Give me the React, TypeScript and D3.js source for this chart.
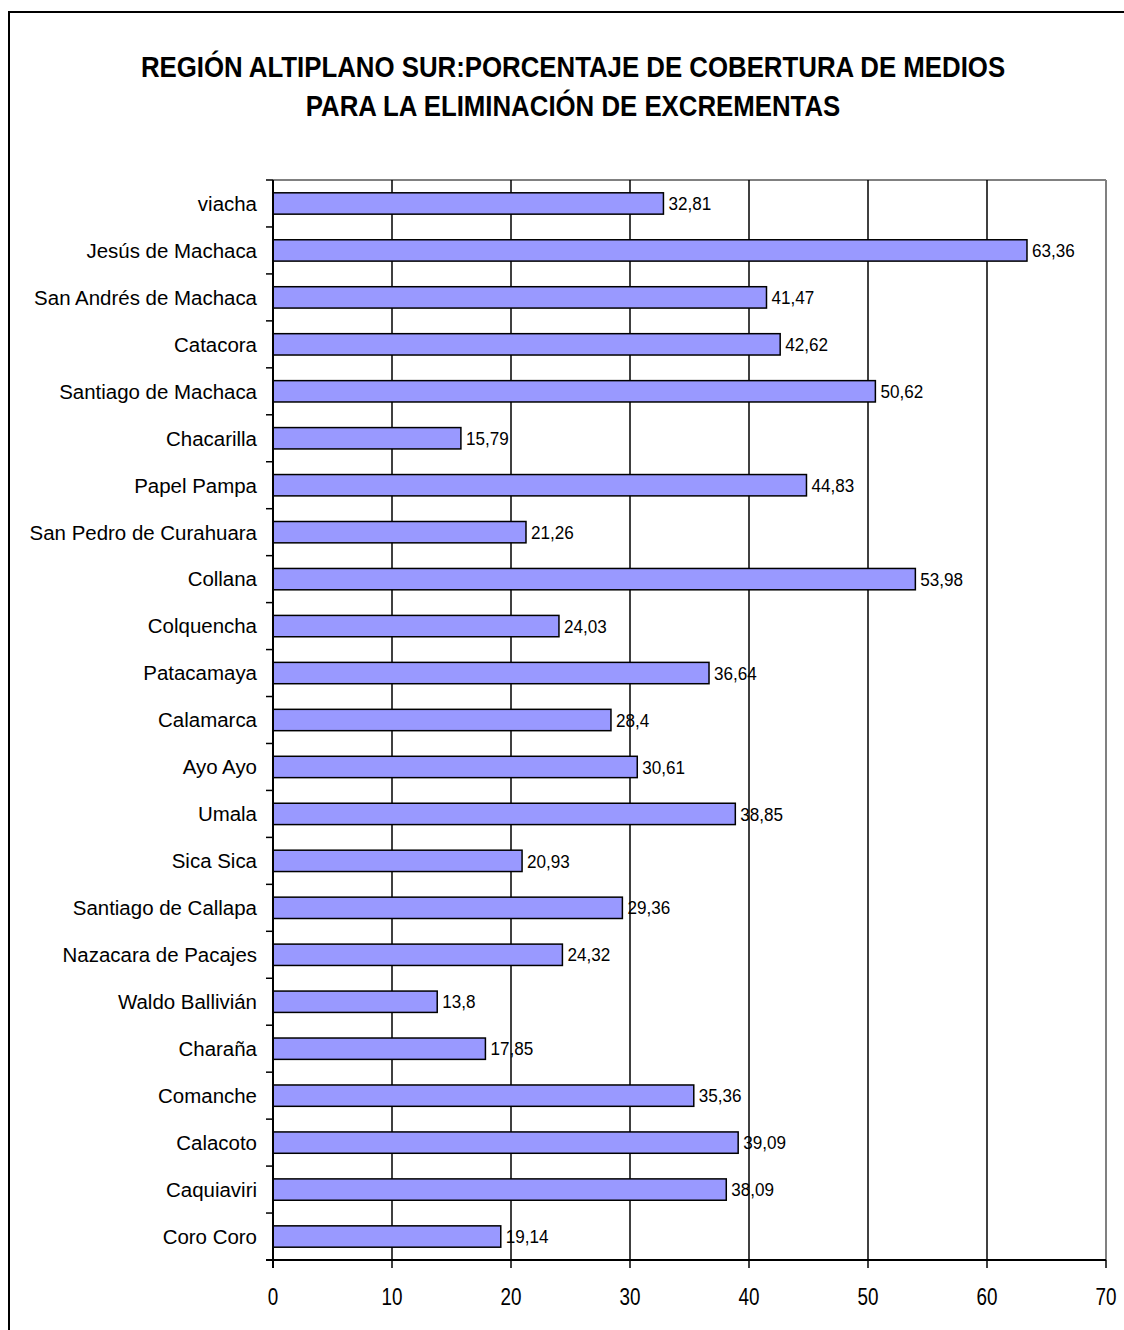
import React from "react";
import * as d3 from "d3";

const categories = [
  "viacha",
  "Jesús de Machaca",
  "San Andrés de Machaca",
  "Catacora",
  "Santiago de Machaca",
  "Chacarilla",
  "Papel Pampa",
  "San Pedro de Curahuara",
  "Collana",
  "Colquencha",
  "Patacamaya",
  "Calamarca",
  "Ayo Ayo",
  "Umala",
  "Sica Sica",
  "Santiago de Callapa",
  "Nazacara de Pacajes",
  "Waldo Ballivián",
  "Charaña",
  "Comanche",
  "Calacoto",
  "Caquiaviri",
  "Coro Coro",
];

const values = [
  32.81, 63.36, 41.47, 42.62, 50.62, 15.79, 44.83, 21.26, 53.98, 24.03, 36.64,
  28.4, 30.61, 38.85, 20.93, 29.36, 24.32, 13.8, 17.85, 35.36, 39.09, 38.09,
  19.14,
];

const xTicks = [0, 10, 20, 30, 40, 50, 60, 70];

const titleLines = [
  "REGIÓN ALTIPLANO SUR:PORCENTAJE DE COBERTURA DE MEDIOS",
  "PARA LA ELIMINACIÓN DE EXCREMENTAS",
];

export default function App() {
  const W = 1124;
  const H = 1330;
  const left = 273;
  const right = 1106;
  const top = 180;
  const bottom = 1260;

  const x = d3.scaleLinear().domain([0, 70]).range([left, right]);
  const y = d3
    .scaleBand<string>()
    .domain(categories)
    .range([top, bottom])
    .paddingInner(0)
    .paddingOuter(0);
  const bw = y.bandwidth();
  const barH = bw / 2.2;
  const font = "'Liberation Sans', Arial, sans-serif";
  const fmt = (v: number) => String(v).replace(".", ",");

  const boundaries = d3.range(categories.length + 1).map((i) => top + i * bw);

  return (
    <svg
      width={W}
      height={H}
      style={{ position: "absolute", left: 0, top: 0, background: "#fff" }}
      fontFamily={font}
    >
      <rect x={0} y={0} width={W} height={H} fill="#fff" />
      <rect
        x={9}
        y={12}
        width={W + 20}
        height={H + 20}
        fill="none"
        stroke="#000"
        strokeWidth={2}
      />
      {titleLines.map((t, i) => (
        <text
          key={i}
          transform={`translate(573,${77 + i * 38.5}) scale(0.89,1)`}
          textAnchor="middle"
          fontWeight="bold"
          fontSize={29}
          fill="#000"
        >
          {t}
        </text>
      ))}
      {/* plot frame (gray) */}
      <line x1={left} x2={right} y1={top} y2={top} stroke="#808080" strokeWidth={2} />
      <line x1={right} x2={right} y1={top} y2={bottom} stroke="#808080" strokeWidth={2} />
      {/* gridlines */}
      {xTicks
        .filter((t) => t > 0 && t < 70)
        .map((t) => (
          <line
            key={t}
            x1={x(t)}
            x2={x(t)}
            y1={top}
            y2={bottom}
            stroke="#000"
            strokeWidth={1.5}
          />
        ))}
      {/* bars */}
      {categories.map((c, i) => {
        const yc = (y(c) as number) + bw / 2;
        return (
          <g key={c}>
            <rect
              x={x(0)}
              y={yc - barH / 2}
              width={x(values[i]) - x(0)}
              height={barH}
              fill="#9999FF"
              stroke="#000"
              strokeWidth={1.5}
            />
            <text
              transform={`translate(${x(values[i]) + 5},${yc}) scale(0.9,1)`}
              dy="0.35em"
              fontSize={19}
              fill="#000"
            >
              {fmt(values[i])}
            </text>
            <text
              transform={`translate(257,${yc}) scale(0.975,1)`}
              dy="0.35em"
              textAnchor="end"
              fontSize={21}
              fill="#000"
            >
              {c}
            </text>
          </g>
        );
      })}
      {/* y axis */}
      <line x1={left} x2={left} y1={top} y2={bottom + 8} stroke="#000" strokeWidth={2} />
      {boundaries.map((b, i) => (
        <line key={i} x1={left - 7} x2={left} y1={b} y2={b} stroke="#000" strokeWidth={1.5} />
      ))}
      {/* x axis */}
      <line x1={left - 7} x2={right} y1={bottom} y2={bottom} stroke="#000" strokeWidth={2} />
      {xTicks.map((t) => (
        <g key={t}>
          <line
            x1={x(t)}
            x2={x(t)}
            y1={bottom}
            y2={bottom + 8}
            stroke="#000"
            strokeWidth={1.5}
          />
          <text
            transform={`translate(${x(t)},1297) scale(0.82,1)`}
            dy="0.35em"
            textAnchor="middle"
            fontSize={23}
            fill="#000"
          >
            {t}
          </text>
        </g>
      ))}
    </svg>
  );
}
